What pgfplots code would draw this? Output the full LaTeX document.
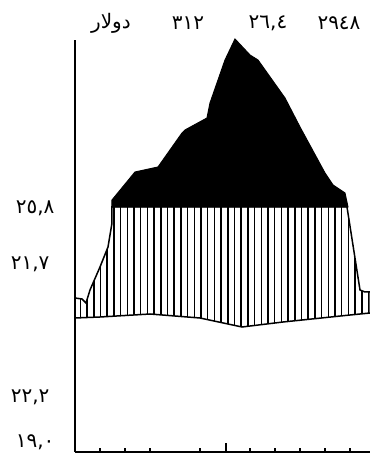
\documentclass[border=0pt]{standalone}
\usepackage{fontspec}
\usepackage{pgfplots}
\pgfplotsset{compat=1.18}
\usetikzlibrary{patterns.meta}
\newfontfamily\arabicfont[Script=Arabic]{DejaVu Sans}
\TeXXeTstate=1

% outer band (hatched) and the peak above it (solid), in plot units
\pgfplotstableread{
x y
75 158
82 157
86 153
90 166
100 189
108 209
112 233
112 249
347 249
360 166
365 164
370 164
370 143
350 141
283 134
242 129
200 138
150 142
100 139
75 138
}\bandtable

\pgfplotstableread{
x y
112 249
112 256
135 284
158 289
182 323
185 326
207 338
210 353
225 396
235 417
250 401
258 396
285 358
300 329
325 283
333 271
345 263
348 249
}\peaktable

\begin{document}
\begin{tikzpicture}
\useasboundingbox (-75pt,-4pt) rectangle (295pt,452pt);
\begin{axis}[
  scale only axis, width=295pt, height=412pt,
  xmin=75, xmax=370, ymin=4, ymax=416,
  clip=false,
  axis x line*=bottom, axis y line*=left,
  axis line style={-, line width=1.6pt},
  xtick={226}, ytick=\empty,
  minor xtick={100,125,150,200,250,275,300,325,350},
  minor ytick={54,103,153,204,253,291,329,366,405},
  xticklabel=\empty,
  xtick align=inside, ytick align=outside,
  major tick length=9pt, minor tick length=4pt,
  every tick/.style={black, line width=1.2pt},
  every minor tick/.style={black, line width=1.2pt},
]
\addplot[draw=black, line width=1.5pt,
  pattern={Lines[angle=90,distance=6.7pt,line width=1.5pt]}]
  table[x=x,y=y] {\bandtable} -- cycle;
\addplot[draw=black, fill=black, line width=1pt]
  table[x=x,y=y] {\peaktable} -- cycle;

\begin{scope}[font=\arabicfont\fontsize{20}{20}\selectfont]
\node at (axis cs:111,433) {\beginR دولار\endR};
\node at (axis cs:188,433) {٣١٢};
\node at (axis cs:268,433) {٢٦,٤};
\node at (axis cs:339,433) {٢٩٤٨};
\node[anchor=east] at (axis cs:58,248) {٢٥,٨};
\node[anchor=east] at (axis cs:53,192) {٢١,٧};
\node[anchor=east] at (axis cs:53,59) {٢٢,٢};
\node[anchor=east] at (axis cs:58,14) {١٩,٠};
\end{scope}
\end{axis}
\end{tikzpicture}
\end{document}
